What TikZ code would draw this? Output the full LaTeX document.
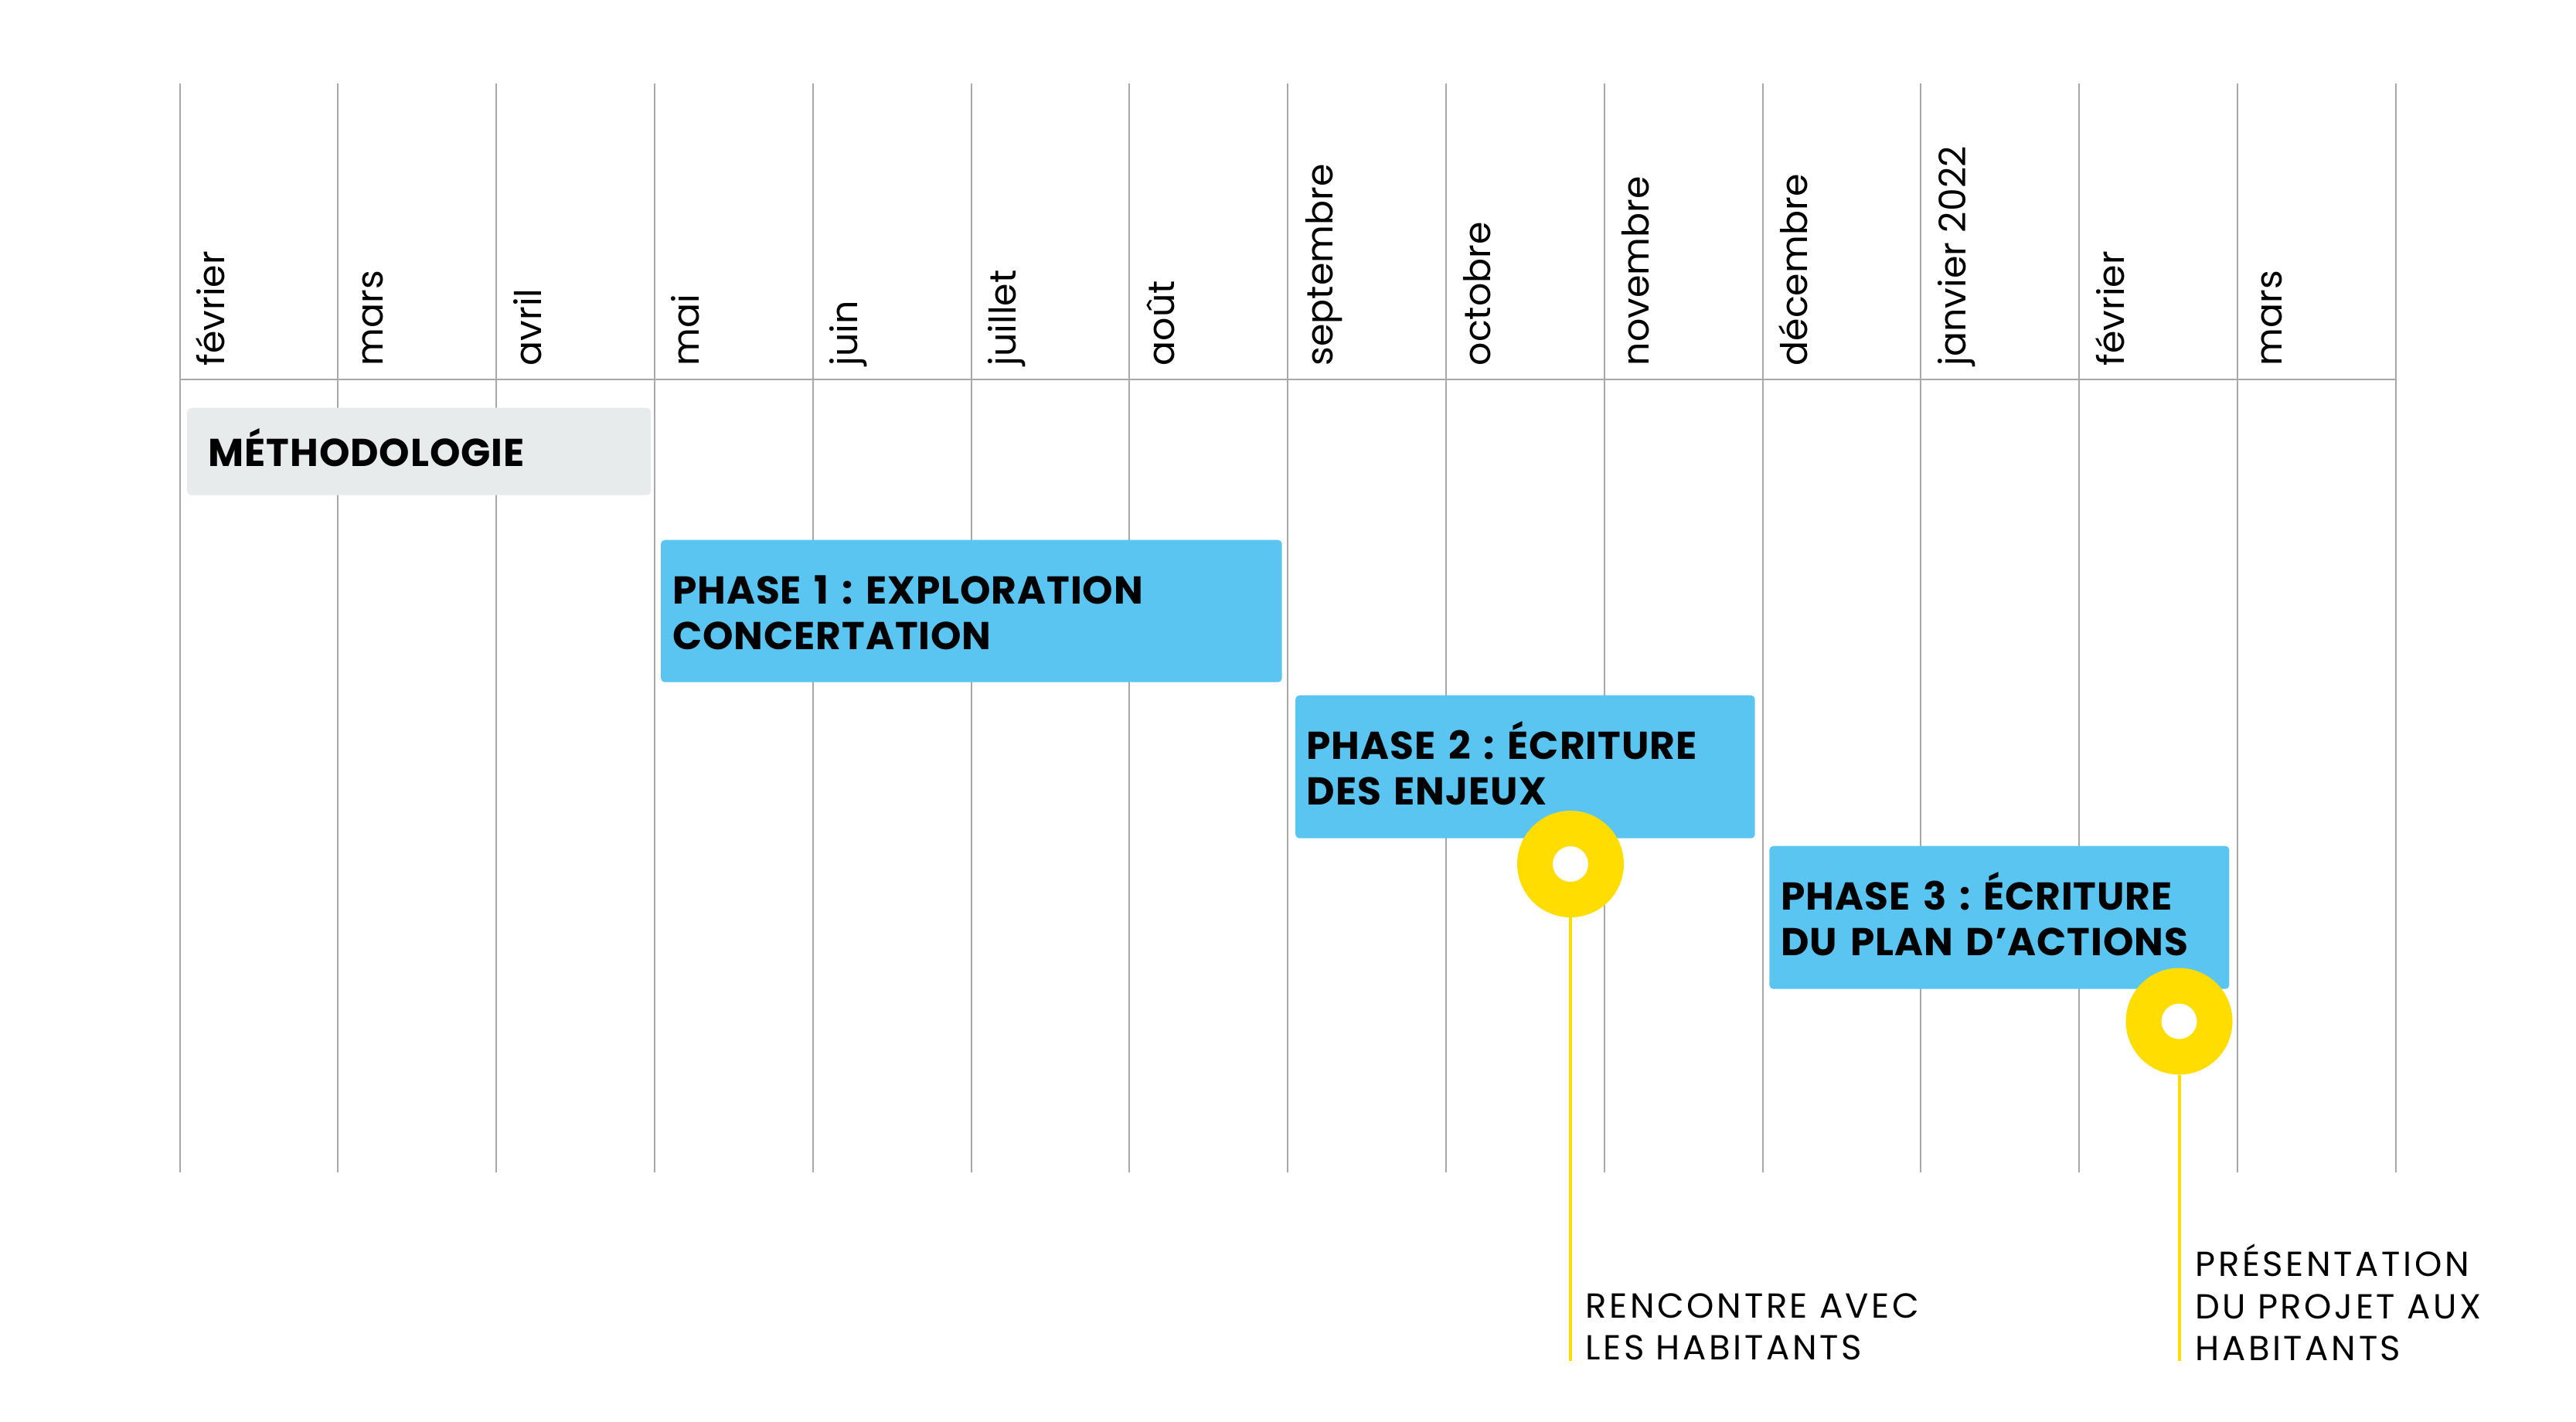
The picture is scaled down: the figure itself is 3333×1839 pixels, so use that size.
\documentclass[tikz,border=0pt]{standalone}
\usepackage{fontspec}
\setmainfont{Poppins}
\usetikzlibrary{calc,positioning}
\definecolor{gridgrey}{HTML}{A8A8A8}
\definecolor{phaseblue}{HTML}{5BC5F2}
\definecolor{methgrey}{HTML}{E8EBEC}
\definecolor{eventyellow}{HTML}{FFDD00}
\tikzset{
  x=0.1mm, y=-0.1mm,
  gridline/.style={gridgrey, line width=0.2mm},
  month/.style={rotate=90, anchor=base west, inner sep=0, font=\fontsize{13.5}{16}\selectfont},
  phasebox/.style={fill=phaseblue, rounded corners=0.5mm, anchor=north west, inner sep=0, minimum height=18.5mm},
  methbox/.style={phasebox, fill=methgrey},
  phasetext/.style={anchor=base west, inner sep=0, text width=80mm, align=left, font=\fontsize{14.3}{17}\selectfont\bfseries\addfontfeature{LetterSpace=1.8}},
  ring/.style={circle, draw=eventyellow, line width=4.6mm, fill=white, minimum size=9.2mm, inner sep=0},
  stem/.style={eventyellow, line width=0.4mm},
  eventtext/.style={anchor=base west, inner sep=0, text width=60mm, align=left, font=\fontsize{12.8}{15.5}\selectfont\addfontfeature{LetterSpace=8}}
}

\begin{document}
\frenchspacing
\begin{tikzpicture}
\useasboundingbox (0,0) rectangle (3333,1839);

% grid of months
\foreach \k in {0,...,14}
  \draw[gridline] (232.5+204.8*\k,108) -- (232.5+204.8*\k,1517);
\draw[gridline] (232.5,491) -- (3099.7,491);

\foreach \m [count=\k from 0] in {février, mars, avril, mai, juin, juillet, août, septembre, octobre, novembre, décembre, janvier 2022, février, mars}
  \node[month] (m\k) at (290.5+204.8*\k,474) {\m};

% phases
\node[methbox, minimum width=60mm, minimum height=11.3mm] (meth) at (241.5,527) {};
\node[phasetext] (methlabel) at ($(meth.north west)+(27.5,76)$) {MÉTHODOLOGIE};

\node[phasebox, minimum width=80.35mm, minimum height=18.4mm] (p1) at (854.5,698) {};
\node[phasetext] (p1label) at ($(p1.north west)+(15,83)$) {PHASE 1 : EXPLORATION\\CONCERTATION};

\node[phasebox, minimum width=59.45mm] (p2) at (1675.5,899) {};
\node[phasetext] (p2label) at ($(p2.north west)+(14.5,83)$) {PHASE 2 : ÉCRITURE\\DES ENJEUX};

\node[phasebox, minimum width=59.5mm] (p3) at (2288.7,1094) {};
\node[phasetext] (p3label) at ($(p3.north west)+(15,83)$) {PHASE 3 : ÉCRITURE\\DU PLAN D’ACTIONS};

% events
\node[ring] (ev1) at (2032,1118) {};
\coordinate (ev1end) at (2032,1761);
\draw[stem] (ev1.south) -- (ev1end);
\node[eventtext] (ev1label) at (2051,1705) {RENCONTRE AVEC\\LES HABITANTS};

\node[ring] (ev2) at (2819.5,1321.5) {};
\coordinate (ev2end) at (2819.5,1761);
\draw[stem] (ev2.south) -- (ev2end);
\node[eventtext] (ev2label) at (2839.7,1651.5) {PRÉSENTATION\\DU PROJET AUX\\HABITANTS};
\end{tikzpicture}
\end{document}
